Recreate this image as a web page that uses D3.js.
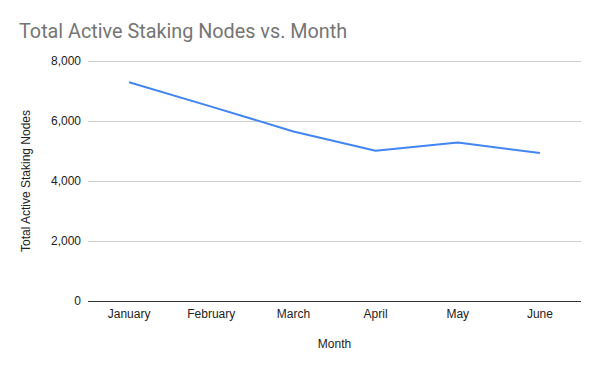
<!DOCTYPE html>
<html>
<head>
<meta charset="utf-8">
<script src="https://cdn.jsdelivr.net/npm/d3@7"></script>
<style>
  body { margin: 0; background: #fff; }
  svg { display: block; }
</style>
</head>
<body>
<script>
// chart data
const months = ["January", "February", "March", "April", "May", "June"];
const nodes = [7290, 6480, 5650, 5010, 5280, 4930];
const yTicks = [0, 2000, 4000, 6000, 8000];

var W = 600, H = 371;
var margin = { top: 61, right: 19, bottom: 70, left: 88 },
    width = W - margin.left - margin.right,
    height = H - margin.top - margin.bottom;

var svg = d3.select("body").append("svg")
    .attr("width", W)
    .attr("height", H);

var g = svg.append("g")
    .attr("transform", "translate(" + margin.left + "," + margin.top + ")");

var xScale = d3.scaleBand().domain(months).range([0, width]);
var yScale = d3.scaleLinear().domain([0, 8000]).range([height, 0]);

// title
svg.append("text")
    .attr("x", 19)
    .attr("y", 38)
    .attr("font-family", "Roboto, sans-serif")
    .attr("font-size", "19.8px")
    .attr("fill", "#757575")
    .text("Total Active Staking Nodes vs. Month");

// gridlines
g.selectAll(".grid")
    .data(yTicks.filter(d => d != 0))
    .enter()
    .append("line")
    .attr("x1", 0)
    .attr("x2", width)
    .attr("y1", d => Math.round(yScale(d)) + 0.5)
    .attr("y2", d => Math.round(yScale(d)) + 0.5)
    .attr("stroke", "#cccccc")
    .attr("stroke-width", 1);

// y tick labels
g.selectAll(".ylab")
    .data(yTicks)
    .enter()
    .append("text")
    .attr("x", -7)
    .attr("y", d => yScale(d) + 4)
    .attr("text-anchor", "end")
    .attr("font-family", "Liberation Sans, Arial, sans-serif")
    .attr("font-size", "12px")
    .attr("fill", "#222")
    .text(d => d3.format(",")(d));

// baseline
g.append("line")
    .attr("x1", 0)
    .attr("x2", width)
    .attr("y1", Math.round(yScale(0)) + 0.5)
    .attr("y2", Math.round(yScale(0)) + 0.5)
    .attr("stroke", "#333")
    .attr("stroke-width", 1);

// x labels
g.selectAll(".xlab")
    .data(months)
    .enter()
    .append("text")
    .attr("x", d => xScale(d) + xScale.bandwidth() / 2)
    .attr("y", height + 17)
    .attr("text-anchor", "middle")
    .attr("font-family", "Liberation Sans, Arial, sans-serif")
    .attr("font-size", "12px")
    .attr("fill", "#222")
    .text(d => d);

// the line
var line = d3.line()
    .x((d, i) => xScale(months[i]) + xScale.bandwidth() / 2)
    .y(d => yScale(d));

g.append("path")
    .datum(nodes)
    .attr("fill", "none")
    .attr("stroke", "#4285f4")
    .attr("stroke-width", 2)
    .attr("stroke-linejoin", "round")
    .attr("d", line);

// axis titles
svg.append("text")
    .attr("x", margin.left + width / 2)
    .attr("y", 348)
    .attr("text-anchor", "middle")
    .attr("font-family", "Liberation Sans, Arial, sans-serif")
    .attr("font-size", "12px")
    .attr("fill", "#222")
    .text("Month");

svg.append("text")
    .attr("transform", "translate(30," + (margin.top + height / 2) + ") rotate(-90)")
    .attr("text-anchor", "middle")
    .attr("font-family", "Liberation Sans, Arial, sans-serif")
    .attr("font-size", "12px")
    .attr("fill", "#222")
    .text("Total Active Staking Nodes");
</script>
</body>
</html>
